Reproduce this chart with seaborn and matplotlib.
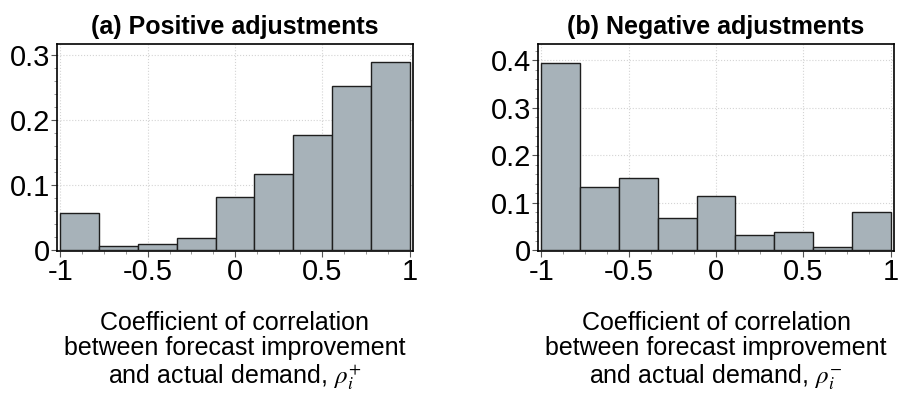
import numpy as np
import pandas as pd
import matplotlib
matplotlib.use("Agg")
import matplotlib.pyplot as plt
from matplotlib.ticker import MultipleLocator
import seaborn as sns

# ---- data (proportions per bin, 9 equal bins from -1 to 1) ----
bin_edges = list(np.linspace(-1, 1, 10))
bin_centers = [(bin_edges[i] + bin_edges[i + 1]) / 2 for i in range(9)]
positive_props = [0.0565, 0.006, 0.010, 0.019, 0.081, 0.117, 0.177, 0.253, 0.289]
negative_props = [0.394, 0.134, 0.152, 0.068, 0.115, 0.033, 0.038, 0.006, 0.080]
titles = ["(a) Positive adjustments", "(b) Negative adjustments"]
xlabels = [
    "Coefficient of correlation\nbetween forecast improvement\nand actual demand, $\\rho_i^{+}$",
    "Coefficient of correlation\nbetween forecast improvement\nand actual demand, $\\rho_i^{-}$",
]
x_ticks = [-1, -0.5, 0, 0.5, 1]
x_ticklabels = ["-1", "-0.5", "0", "0.5", "1"]
y_ticks_list = [[0, 0.1, 0.2, 0.3], [0, 0.1, 0.2, 0.3, 0.4]]
y_ticklabels_list = [["0", "0.1", "0.2", "0.3"], ["0", "0.1", "0.2", "0.3", "0.4"]]
y_tops = [0.317, 0.434]

sns.set_theme(style="white")
plt.rcParams["font.family"] = ["Liberation Sans", "DejaVu Sans"]
plt.rcParams["mathtext.fontset"] = "stix"
plt.rcParams["text.color"] = "black"
plt.rcParams["axes.labelcolor"] = "black"

fig = plt.figure(figsize=(8.98, 4.01), dpi=100)
axes = [
    fig.add_axes([57 / 898, 150 / 401, 356 / 898, 207 / 401]),
    fig.add_axes([538 / 898, 150 / 401, 356 / 898, 207 / 401]),
]

for ax, props, title, xlabel, yt, ytl, ytop in zip(
    axes, [positive_props, negative_props], titles, xlabels,
    y_ticks_list, y_ticklabels_list, y_tops):
    df = pd.DataFrame({"x": bin_centers, "w": props})
    sns.histplot(data=df, x="x", weights="w", bins=bin_edges, stat="count",
                 color="#a7b2b9", alpha=1.0, edgecolor="#1e1e1e",
                 linewidth=1.0, ax=ax, zorder=3)
    ax.set_xlim(-1.02, 1.02)
    ax.set_ylim(-0.0015, ytop)
    ax.set_xticks(x_ticks)
    ax.set_xticklabels(x_ticklabels)
    ax.set_yticks(yt)
    ax.set_yticklabels(ytl)
    ax.xaxis.set_minor_locator(MultipleLocator(0.125))
    ax.yaxis.set_minor_locator(MultipleLocator(0.02))
    ax.tick_params(axis="both", which="major", direction="out", length=4,
                   width=0.8, color="#555555", labelsize=21, pad=1,
                   bottom=True, left=True, labelcolor="black")
    ax.tick_params(axis="both", which="minor", direction="out", length=2.5,
                   width=0.6, color="#888888", bottom=True, left=True)
    ax.grid(True, which="major", linestyle=":", linewidth=0.8, color="#d4d4d4", zorder=0)
    ax.set_axisbelow(True)
    for s in ax.spines.values():
        s.set_visible(True)
        s.set_color("black")
        s.set_linewidth(1.2)
    ax.set_title(title, fontsize=18, fontweight="bold", pad=7, color="black")
    ax.set_xlabel(xlabel, fontsize=18, labelpad=18, linespacing=1.08, color="black")
    ax.set_ylabel("")

fig.savefig("out.png", dpi=100)
